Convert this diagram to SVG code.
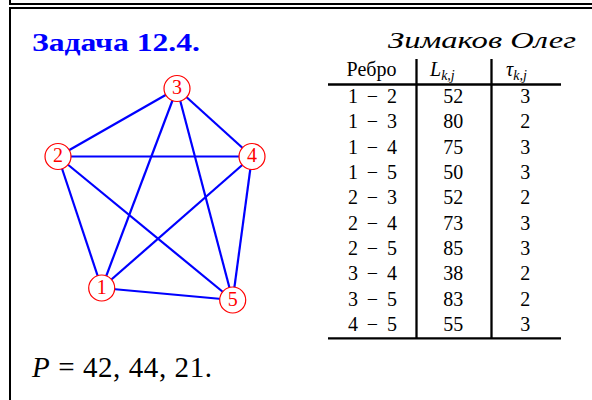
<svg xmlns="http://www.w3.org/2000/svg" width="592" height="400" viewBox="0 0 592 400">
<style>
.frame{fill:none;stroke:#000;stroke-width:2}
.edge{stroke:#0000ff;stroke-width:2.2;fill:none}
.node circle{fill:#fff;stroke:#ff0000;stroke-width:1.2}
.serif{font-family:'Liberation Serif','Times New Roman','DejaVu Serif','Noto Serif',serif}
.node text{fill:#ff0000;font-size:20px;text-anchor:middle}
.cell{font-size:20px;text-anchor:middle;fill:#000}
.rule{stroke:#000;fill:none}
</style>
<rect width="592" height="400" fill="#fff"/>
<path class="frame" d="M10,0 V4 H592"/>
<path class="frame" d="M10,400 V8 H592"/>
<text class="serif" x="32" y="50.5" font-weight="bold" font-size="26" fill="#0000ff" textLength="168" lengthAdjust="spacingAndGlyphs">Задача 12.4.</text>
<text class="serif" x="388" y="48.3" font-style="italic" font-size="22.5" fill="#000" textLength="188" lengthAdjust="spacingAndGlyphs">Зимаков Олег</text>
<g id="connectors">
<line class="edge" x1="101.7" y1="288" x2="58" y2="156.5"/>
<line class="edge" x1="101.7" y1="288" x2="177" y2="88.5"/>
<line class="edge" x1="101.7" y1="288" x2="252" y2="156.5"/>
<line class="edge" x1="101.7" y1="288" x2="232.7" y2="300"/>
<line class="edge" x1="58" y1="156.5" x2="177" y2="88.5"/>
<line class="edge" x1="58" y1="156.5" x2="252" y2="156.5"/>
<line class="edge" x1="58" y1="156.5" x2="232.7" y2="300"/>
<line class="edge" x1="177" y1="88.5" x2="252" y2="156.5"/>
<line class="edge" x1="177" y1="88.5" x2="232.7" y2="300"/>
<line class="edge" x1="252" y1="156.5" x2="232.7" y2="300"/>
</g>
<g id="node1" class="node serif"><circle cx="101.7" cy="288" r="13"/><text x="101.7" y="293.5">1</text></g>
<g id="node2" class="node serif"><circle cx="58" cy="156.5" r="13"/><text x="58" y="162">2</text></g>
<g id="node3" class="node serif"><circle cx="177" cy="88.5" r="13"/><text x="177" y="94">3</text></g>
<g id="node4" class="node serif"><circle cx="252" cy="156.5" r="13"/><text x="252" y="162">4</text></g>
<g id="node5" class="node serif"><circle cx="232.7" cy="300" r="13"/><text x="232.7" y="305.5">5</text></g>
<g id="table" class="serif">
<line class="rule" x1="416.5" y1="59" x2="416.5" y2="338" stroke-width="2.3"/>
<line class="rule" x1="491.5" y1="59" x2="491.5" y2="338" stroke-width="2.3"/>
<line class="rule" x1="328" y1="84.5" x2="561" y2="84.5" stroke-width="2.7"/>
<line class="rule" x1="328" y1="338.3" x2="561" y2="338.3" stroke-width="2.2"/>
<text class="cell" x="371.5" y="76">Ребро</text>
<text x="430" y="76" font-size="20" font-style="italic">L<tspan font-size="14" dy="3.5">k,j</tspan></text>
<text x="506" y="76" font-size="20" font-style="italic">τ<tspan font-size="14" dy="3.5">k,j</tspan></text>
<g text-anchor="start" font-size="20">
<text x="348" y="103" textLength="49" lengthAdjust="spacing">1 − 2</text>
<text x="348" y="128.3" textLength="49" lengthAdjust="spacing">1 − 3</text>
<text x="348" y="153.7" textLength="49" lengthAdjust="spacing">1 − 4</text>
<text x="348" y="179" textLength="49" lengthAdjust="spacing">1 − 5</text>
<text x="348" y="204.3" textLength="49" lengthAdjust="spacing">2 − 3</text>
<text x="348" y="229.7" textLength="49" lengthAdjust="spacing">2 − 4</text>
<text x="348" y="255" textLength="49" lengthAdjust="spacing">2 − 5</text>
<text x="348" y="280.3" textLength="49" lengthAdjust="spacing">3 − 4</text>
<text x="348" y="305.7" textLength="49" lengthAdjust="spacing">3 − 5</text>
<text x="348" y="331" textLength="49" lengthAdjust="spacing">4 − 5</text>
</g>
<text class="cell" x="453.3" y="103">52</text><text class="cell" x="525.3" y="103">3</text>
<text class="cell" x="453.3" y="128.3">80</text><text class="cell" x="525.3" y="128.3">2</text>
<text class="cell" x="453.3" y="153.7">75</text><text class="cell" x="525.3" y="153.7">3</text>
<text class="cell" x="453.3" y="179">50</text><text class="cell" x="525.3" y="179">3</text>
<text class="cell" x="453.3" y="204.3">52</text><text class="cell" x="525.3" y="204.3">2</text>
<text class="cell" x="453.3" y="229.7">73</text><text class="cell" x="525.3" y="229.7">3</text>
<text class="cell" x="453.3" y="255">85</text><text class="cell" x="525.3" y="255">3</text>
<text class="cell" x="453.3" y="280.3">38</text><text class="cell" x="525.3" y="280.3">2</text>
<text class="cell" x="453.3" y="305.7">83</text><text class="cell" x="525.3" y="305.7">2</text>
<text class="cell" x="453.3" y="331">55</text><text class="cell" x="525.3" y="331">3</text>
</g>
<text class="serif" x="32" y="376.7" font-size="29" fill="#000" textLength="180" lengthAdjust="spacing"><tspan font-style="italic">P</tspan> = 42, 44, 21.</text>
</svg>
